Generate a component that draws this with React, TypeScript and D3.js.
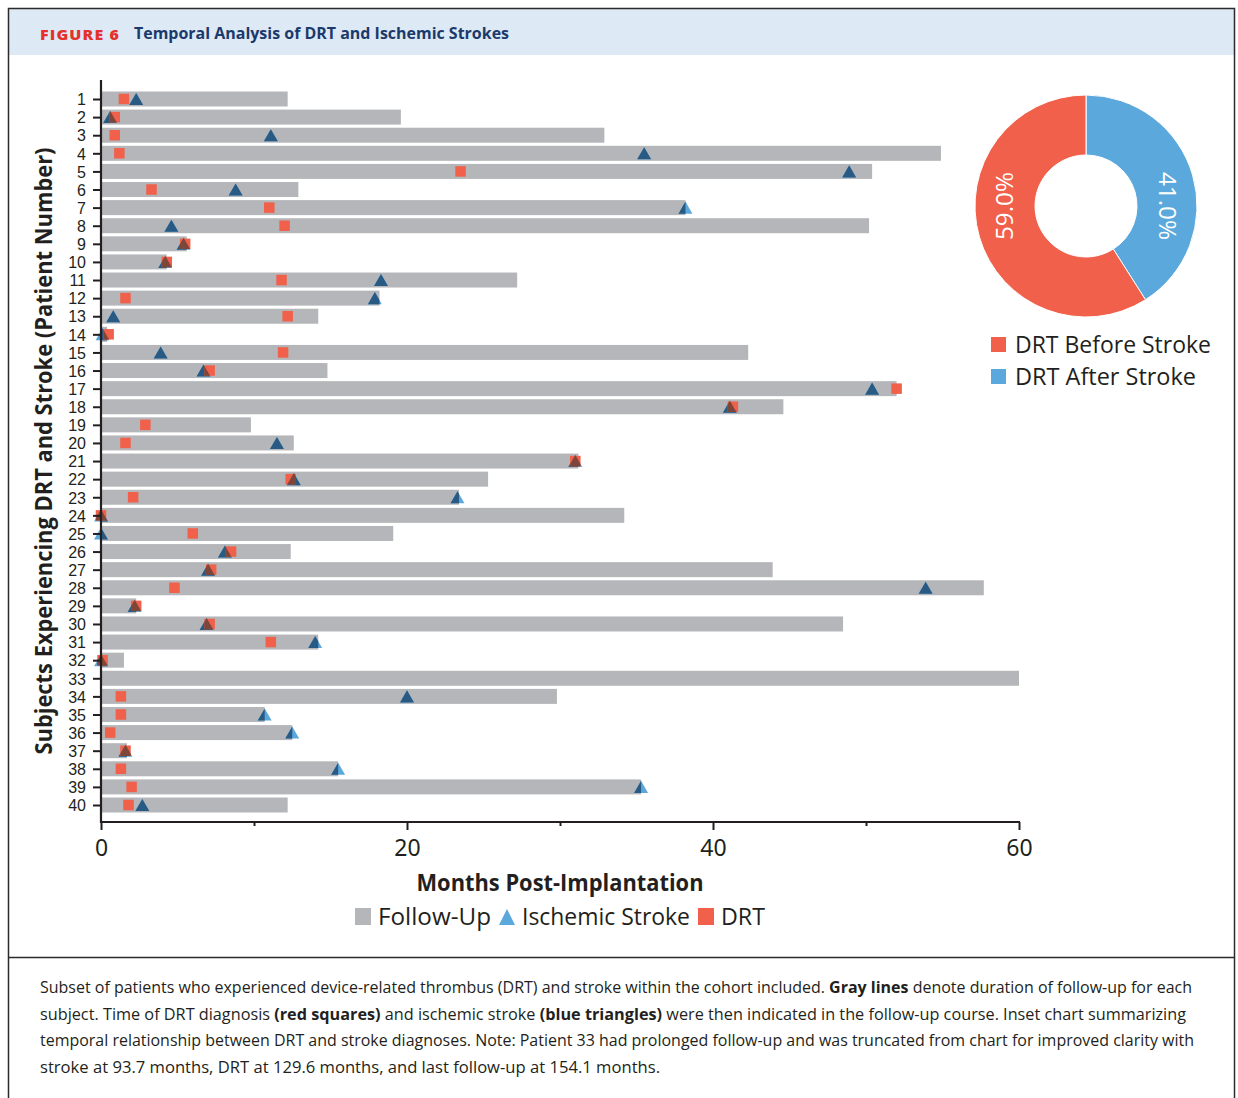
import React, { useRef, useEffect } from 'react';
import * as d3 from 'd3';

// ─── data ─────────────────────────────────────────────────────────────────────
const patients = d3.range(1, 41);
// months of follow-up per patient (33 is truncated at the axis end)
const followUp = [
    12.2, 19.6, 32.9, 54.9, 50.4, 12.9, 38.2, 50.2, 5.6, 4.3,
    27.2, 18.2, 14.2, 0.4, 42.3, 14.8, 52.0, 44.6, 9.8, 12.6,
    31.2, 25.3, 23.4, 34.2, 19.1, 12.4, 43.9, 57.7, 2.3, 48.5,
    14.2, 1.5, 154.1, 29.8, 10.7, 12.5, 1.7, 15.5, 35.3, 12.2,
];
const drtMonth = [
    1.5, 0.9, 0.9, 1.2, 23.5, 3.3, 11.0, 12.0, 5.5, 4.3,
    11.8, 1.6, 12.2, 0.5, 11.9, 7.1, 52.0, 41.3, 2.9, 1.6,
    31.0, 12.4, 2.1, 0.0, 6.0, 8.5, 7.2, 4.8, 2.3, 7.1,
    11.1, 0.1, 129.6, 1.3, 1.3, 0.6, 1.6, 1.3, 2.0, 1.8,
];
const strokeMonth: (number | null)[] = [
    2.3, 0.6, 11.1, 35.5, 48.9, 8.8, 38.2, 4.6, 5.4, 4.2,
    18.3, 17.9, 0.8, 0.1, 3.9, 6.7, 50.4, 41.1, null, 11.5,
    31.0, 12.6, 23.3, 0.0, 0.0, 8.1, 7.0, 53.9, 2.2, 6.9,
    14.0, 0.0, 93.7, 20.0, 10.7, 12.5, 1.6, 15.5, 35.3, 2.7,
];
const xTicks = [0, 20, 40, 60];
const xMinorTicks = [10, 30, 50];

const pieLabels = ['DRT After Stroke', 'DRT Before Stroke'];
const pieValues = [41.0, 59.0];
const legendOrder = ['DRT Before Stroke', 'DRT After Stroke'];

const captionLines = [
    [['Subset of patients who experienced device-related thrombus (DRT) and stroke within the cohort included. ', false], ['Gray lines', true], [' denote duration of follow-up for each', false]],
    [['subject. Time of DRT diagnosis ', false], ['(red squares)', true], [' and ischemic stroke ', false], ['(blue triangles)', true], [' were then indicated in the follow-up course. Inset chart summarizing', false]],
    [['temporal relationship between DRT and stroke diagnoses. Note: Patient 33 had prolonged follow-up and was truncated from chart for improved clarity with', false]],
    [['stroke at 93.7 months, DRT at 129.6 months, and last follow-up at 154.1 months.', false]],
] as [string, boolean][][];
const captionWidths = [1152, 1146, 1154, 620];

// ─── colours ──────────────────────────────────────────────────────────────────
const GRAY = '#b5b6b9';
const RED = '#f0604a';
const LIGHT_BLUE = '#5ba8dc';
const NAVY = '#285a83';
const BROWN = '#7d4638';
const INK = '#231f20';
const SANS = '"Open Sans", "Noto Sans", sans-serif';

const W = 1238;
const H = 1098;

const App: React.FC = () => {
    const ref = useRef<SVGSVGElement | null>(null);

    useEffect(() => {
        if (!ref.current) return;
        const svg = d3.select(ref.current);
        svg.selectAll('*').remove();

        // ─── frame + header ─────────────────────────────────────────────────
        svg.append('rect').attr('x', 0).attr('y', 0).attr('width', W).attr('height', H).attr('fill', '#fff');
        svg.append('rect').attr('x', 9).attr('y', 9).attr('width', 1225).attr('height', 46).attr('fill', '#dde9f5');
        svg.append('rect')
            .attr('x', 8.5).attr('y', 8.5).attr('width', 1226).attr('height', H + 20)
            .attr('fill', 'none').attr('stroke', '#2b2b2b').attr('stroke-width', 1.5);
        svg.append('line')
            .attr('x1', 8).attr('x2', 1235).attr('y1', 957.5).attr('y2', 957.5)
            .attr('stroke', '#2b2b2b').attr('stroke-width', 1.5);

        svg.append('text')
            .attr('x', 40).attr('y', 39.5)
            .attr('fill', '#e4312b').attr('font-weight', 800).attr('font-size', 14.5)
            .attr('font-family', SANS).attr('textLength', 80).attr('lengthAdjust', 'spacingAndGlyphs')
            .attr('letter-spacing', 1)
            .text('FIGURE 6');
        svg.append('text')
            .attr('x', 134).attr('y', 39)
            .attr('fill', '#1b3a6b').attr('font-weight', 700).attr('font-size', 15.5)
            .attr('font-family', SANS).attr('textLength', 375).attr('lengthAdjust', 'spacingAndGlyphs')
            .text('Temporal Analysis of DRT and Ischemic Strokes');

        // ─── scales ─────────────────────────────────────────────────────────
        const x = d3.scaleLinear().domain([0, 60]).range([101, 1019]);
        const y = d3.scalePoint<number>().domain(patients).range([99, 805]);
        const barH = 15;
        const sq = 10.5;
        const xMax = x.domain()[1];

        const rows = patients.map((p, i) => ({
            id: p,
            follow: Math.min(followUp[i], xMax),
            drt: drtMonth[i] <= xMax ? drtMonth[i] : null,
            stroke: strokeMonth[i] != null && (strokeMonth[i] as number) <= xMax ? strokeMonth[i] : null,
        }));
        type Row = typeof rows[0];

        const defs = svg.append('defs');
        rows.forEach(r => {
            defs.append('clipPath').attr('id', `bar-${r.id}`)
                .append('rect')
                .attr('x', x(0) + 1).attr('y', (y(r.id) as number) - barH / 2)
                .attr('width', Math.max(0, x(r.follow) - x(0) - 1)).attr('height', barH);
            if (r.drt != null) {
                defs.append('clipPath').attr('id', `sq-${r.id}`)
                    .append('rect')
                    .attr('x', x(r.drt) - sq / 2).attr('y', (y(r.id) as number) - sq / 2)
                    .attr('width', sq).attr('height', sq);
            }
        });

        const g = svg.append('g');

        // follow-up bars
        g.selectAll('rect.bar').data(rows).enter().append('rect')
            .attr('class', 'bar')
            .attr('x', x(0) + 1)
            .attr('y', d => (y(d.id) as number) - barH / 2)
            .attr('width', d => Math.max(0, x(d.follow) - x(0) - 1))
            .attr('height', barH)
            .attr('fill', GRAY);

        const tri = d3.symbol().type(d3.symbolTriangle).size(84);
        const withStroke = rows.filter(r => r.stroke != null);
        const triT = (d: Row) => `translate(${x(d.stroke as number)},${(y(d.id) as number) + 2})`;

        // stroke triangles: light where outside the bar, navy inside
        g.selectAll('path.tri-light').data(withStroke).enter().append('path')
            .attr('d', tri()).attr('transform', triT).attr('fill', LIGHT_BLUE);
        g.selectAll('g.tri-dark').data(withStroke).enter().append('g')
            .attr('clip-path', d => `url(#bar-${d.id})`)
            .append('path')
            .attr('d', tri()).attr('transform', triT).attr('fill', NAVY);

        // DRT squares
        const withDrt = rows.filter(r => r.drt != null);
        g.selectAll('rect.drt').data(withDrt).enter().append('rect')
            .attr('x', d => x(d.drt as number) - sq / 2)
            .attr('y', d => (y(d.id) as number) - sq / 2)
            .attr('width', sq).attr('height', sq)
            .attr('fill', RED);

        // overlap of triangle and square shows brown
        g.selectAll('g.tri-mix').data(withStroke.filter(r => r.drt != null)).enter().append('g')
            .attr('clip-path', d => `url(#sq-${d.id})`)
            .append('path')
            .attr('d', tri()).attr('transform', triT).attr('fill', BROWN);

        // ─── axes ───────────────────────────────────────────────────────────
        const yAxis = svg.append('g')
            .attr('transform', `translate(${x(0)},0)`)
            .call(d3.axisLeft(y).tickSize(8).tickPadding(7));
        yAxis.select('.domain').remove();
        yAxis.selectAll('line').attr('stroke', INK).attr('stroke-width', 2);
        yAxis.selectAll('text')
            .attr('font-family', '"Liberation Sans", Arial, sans-serif').attr('font-size', 16).attr('fill', INK)
            .attr('dy', '0.36em');
        svg.append('line')
            .attr('x1', x(0)).attr('x2', x(0)).attr('y1', 80).attr('y2', 823)
            .attr('stroke', INK).attr('stroke-width', 2.2);

        const xAxis = svg.append('g')
            .attr('transform', 'translate(0,822)')
            .call(d3.axisBottom(x).tickValues(xTicks).tickSize(8).tickPadding(10).tickFormat(d3.format('d')));
        xAxis.select('.domain').remove();
        xAxis.selectAll('line').attr('stroke', INK).attr('stroke-width', 2);
        xAxis.selectAll('text')
            .attr('font-family', '"Noto Sans", sans-serif').attr('font-size', 23).attr('fill', INK);
        const xMinor = svg.append('g')
            .attr('transform', 'translate(0,822)')
            .call(d3.axisBottom(x).tickValues(xMinorTicks).tickSize(4).tickFormat(() => ''));
        xMinor.select('.domain').remove();
        xMinor.selectAll('line').attr('stroke', INK).attr('stroke-width', 2);
        svg.append('line')
            .attr('x1', x(0) - 1).attr('x2', x(60) + 1).attr('y1', 822).attr('y2', 822)
            .attr('stroke', INK).attr('stroke-width', 2.2);

        // axis titles
        svg.append('text')
            .attr('transform', 'translate(52,451) rotate(-90)')
            .attr('text-anchor', 'middle')
            .attr('font-family', SANS).attr('font-weight', 700).attr('font-size', 24).attr('fill', INK)
            .attr('textLength', 607).attr('lengthAdjust', 'spacingAndGlyphs')
            .text('Subjects Experiencing DRT and Stroke (Patient Number)');
        svg.append('text')
            .attr('x', 560).attr('y', 891)
            .attr('text-anchor', 'middle')
            .attr('font-family', SANS).attr('font-weight', 700).attr('font-size', 24).attr('fill', INK)
            .attr('textLength', 287).attr('lengthAdjust', 'spacingAndGlyphs')
            .text('Months Post-Implantation');

        // bottom legend
        const lg = svg.append('g').attr('font-family', SANS).attr('font-size', 24).attr('fill', INK);
        lg.append('rect').attr('x', 355).attr('y', 908).attr('width', 16).attr('height', 17).attr('fill', GRAY);
        lg.append('text').attr('x', 378).attr('y', 925).attr('textLength', 113).attr('lengthAdjust', 'spacingAndGlyphs').text('Follow-Up');
        lg.append('path').attr('d', 'M499,925L507,909L515,925Z').attr('fill', LIGHT_BLUE);
        lg.append('text').attr('x', 522).attr('y', 925).attr('textLength', 168).attr('lengthAdjust', 'spacingAndGlyphs').text('Ischemic Stroke');
        lg.append('rect').attr('x', 698).attr('y', 908).attr('width', 16).attr('height', 17).attr('fill', RED);
        lg.append('text').attr('x', 721).attr('y', 925).attr('textLength', 44).attr('lengthAdjust', 'spacingAndGlyphs').text('DRT');

        // ─── donut inset ────────────────────────────────────────────────────
        const pieData = pieLabels.map((l, i) => ({ label: l, value: pieValues[i] }));
        const colour = d3.scaleOrdinal<string, string>()
            .domain(['DRT Before Stroke', 'DRT After Stroke'])
            .range([RED, LIGHT_BLUE]);
        const pie = d3.pie<{ label: string; value: number }>().value(d => d.value).sort(null);
        const inner = 51;
        const outer = 111;
        const arc = d3.arc<d3.PieArcDatum<{ label: string; value: number }>>()
            .innerRadius(inner).outerRadius(outer);
        const donut = svg.append('g').attr('transform', 'translate(1086,206)');
        donut.selectAll('path').data(pie(pieData)).enter().append('path')
            .attr('d', arc as any)
            .attr('fill', d => colour(d.data.label))
            .attr('stroke', '#fff').attr('stroke-width', 1);
        const mid = (inner + outer) / 2;
        donut.selectAll('text').data(pie(pieData)).enter().append('text')
            .attr('transform', d => {
                const side = arc.centroid(d)[0] >= 0 ? 1 : -1;
                return `translate(${side * mid},0) rotate(${side * 90})`;
            })
            .attr('text-anchor', 'middle').attr('dy', '0.36em')
            .attr('fill', '#fff').attr('font-family', SANS).attr('font-size', 23)
            .attr('textLength', 68).attr('lengthAdjust', 'spacingAndGlyphs')
            .text(d => `${d.data.value.toFixed(1)}%`);

        const rl = svg.append('g').attr('font-family', SANS).attr('font-size', 24).attr('fill', INK);
        legendOrder.forEach((l, i) => {
            rl.append('rect').attr('x', 991).attr('y', 337 + i * 32).attr('width', 15).attr('height', 15).attr('fill', colour(l));
            rl.append('text').attr('x', 1015).attr('y', 353 + i * 32)
                .attr('textLength', i === 0 ? 196 : 181).attr('lengthAdjust', 'spacingAndGlyphs')
                .text(l);
        });

        // ─── caption ────────────────────────────────────────────────────────
        captionLines.forEach((parts, i) => {
            const t = svg.append('text')
                .attr('x', 40).attr('y', 993 + i * 26.7)
                .attr('font-family', SANS).attr('font-size', 15.5).attr('fill', INK)
                .attr('textLength', captionWidths[i]).attr('lengthAdjust', 'spacingAndGlyphs');
            parts.forEach(([s, b]) => {
                t.append('tspan').attr('font-weight', b ? 700 : 400).text(s);
            });
        });
    }, []);

    return (
        <svg
            ref={ref}
            width={W}
            height={H}
            style={{ position: 'absolute', left: 0, top: 0, display: 'block' }}
        />
    );
};

export default App;
